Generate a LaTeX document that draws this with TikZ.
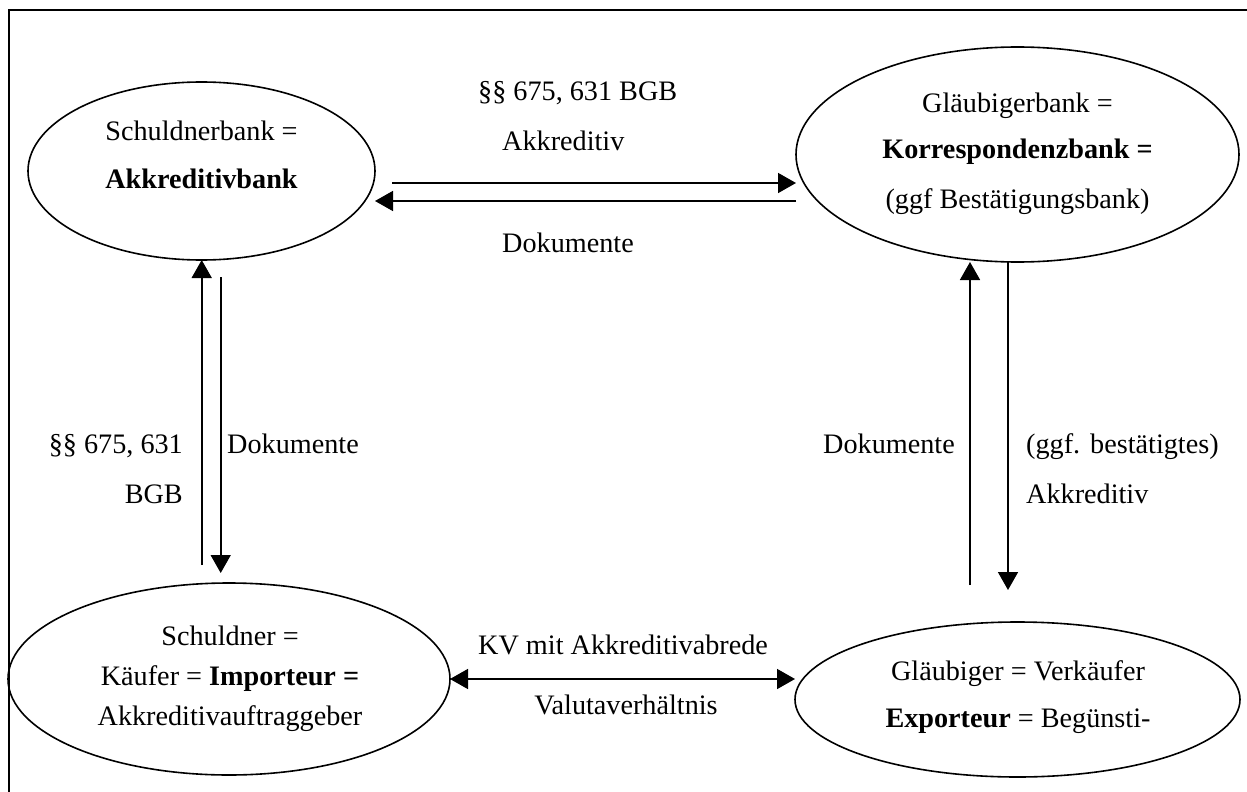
\documentclass[tikz,border=0pt]{standalone}
\usepackage{fontspec}
\setmainfont{Liberation Serif}
\usetikzlibrary{shapes.geometric,arrows.meta}
\begin{document}
\begin{tikzpicture}[x=1pt,y=-1pt,
  bubble/.style={draw, ellipse, line width=1.6pt, inner sep=0pt, outer sep=0pt},
  lbl/.style={anchor=base, inner sep=0pt, font=\fontsize{28.2}{34}\selectfont},
  arr/.style={line width=1.6pt, -{Triangle[length=18pt,width=20pt]}},
  dblarr/.style={line width=1.6pt, {Triangle[length=18pt,width=20pt]}-{Triangle[length=18pt,width=20pt]}},
  frame/.style={line width=1.8pt}]
\useasboundingbox (0,0) rectangle (1247,792);

% open frame (left and top edges)
\draw[frame] (9,792) -- (9,10) -- (1247,10);

% the four parties
\node[bubble, minimum width=347pt, minimum height=178pt] (sb) at (201.5,171) {};
\node[bubble, minimum width=443pt, minimum height=215pt] (kb) at (1017.5,154.5) {};
\node[bubble, minimum width=442pt, minimum height=192pt] (sc) at (229,679) {};
\node[bubble, minimum width=445pt, minimum height=155pt] (gl) at (1017.5,699.5) {};

% texts inside the ellipses
\node[lbl] (sb1) at (201.5,140) {Schuldnerbank =};
\node[lbl] (sb2) at (201.5,188) {\textbf{Akkreditivbank}};
\node[lbl] (kb1) at (1017.5,112) {Gläubigerbank =};
\node[lbl] (kb2) at (1017.5,158) {\textbf{Korrespondenzbank =}};
\node[lbl] (kb3) at (1017.5,208) {(ggf Bestätigungsbank)};
\node[lbl] (sc1) at (230,645) {Schuldner =};
\node[lbl] (sc2) at (230,685) {Käufer = \textbf{Importeur =}};
\node[lbl] (sc3) at (230,725) {Akkreditivauftraggeber};
\node[lbl] (gl1) at (1018,680) {Gläubiger = Verkäufer};
\node[lbl] (gl2) at (1018,727) {\textbf{Exporteur} = Begünsti-};

% free ends of the connectors
\coordinate (t1) at (392,183);
\coordinate (t2) at (797,201);
\coordinate (l1) at (201.7,565);
\coordinate (l2s) at (220.7,277);
\coordinate (l2e) at (220.7,573);
\coordinate (r1) at (970,585);
\coordinate (r2s) at (1008,263);
\coordinate (r2e) at (1008,590);

% bank to bank
\draw[arr] (t1) -- (t1 -| kb.west);
\draw[arr] (t2 -| kb.west) -- (t2 -| sb.east);
% importer and issuing bank
\draw[arr] (l1) -- (l1 |- sb.south);
\draw[arr] (l2s) -- (l2e);
% exporter and correspondent bank
\draw[arr] (r1) -- (r1 |- kb.south);
\draw[arr] (r2s |- kb.south) -- (r2e);
% sales contract
\draw[dblarr] (sc.east) -- (sc.east -| gl.west);

% connector labels
\node[lbl, anchor=base west] (ta) at (478,100) {§§ 675, 631 BGB};
\node[lbl, anchor=base west] (tb) at (502,150) {Akkreditiv};
\node[lbl, anchor=base west] (tc) at (502,252) {Dokumente};
\node[lbl, anchor=base east] (la) at (183,453) {§§ 675, 631};
\node[lbl, anchor=base east] (lb) at (183,503) {BGB};
\node[lbl, anchor=base west] (lc) at (227,453) {Dokumente};
\node[lbl, anchor=base east] (ra) at (955,453) {Dokumente};
\node[lbl, anchor=base west] (rb) at (1026,453) {(ggf.\hspace{10pt}bestätigtes)};
\node[lbl, anchor=base west] (rc) at (1026,503) {Akkreditiv};
\node[lbl, anchor=base west] (ba) at (478,654) {KV mit Akkreditivabrede};
\node[lbl] (bb) at (626,714) {Valutaverhältnis};
\end{tikzpicture}
\end{document}
